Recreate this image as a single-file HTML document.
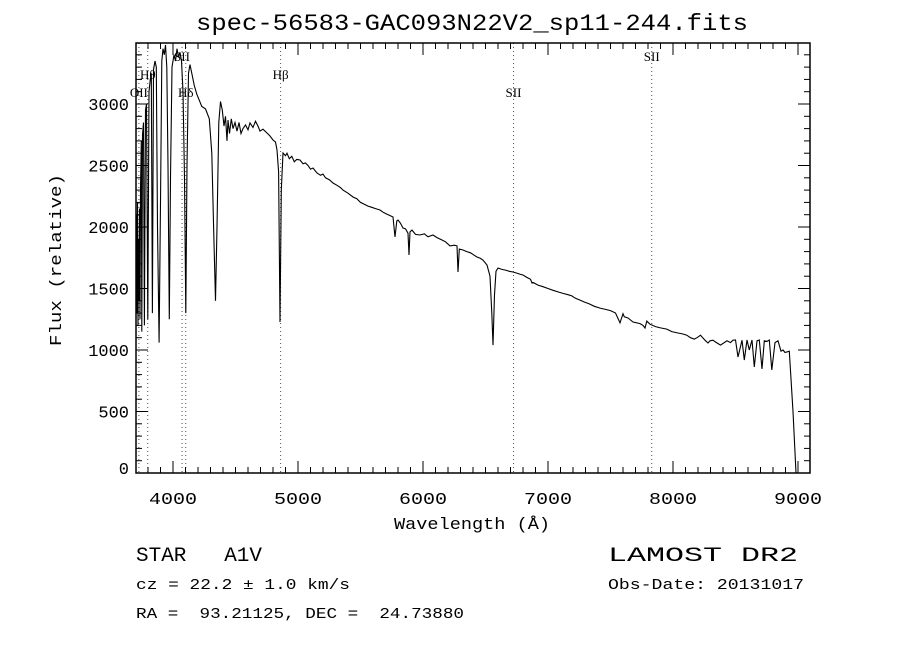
<!DOCTYPE html>
<html><head><meta charset="utf-8"><style>
html,body{margin:0;padding:0;background:#fff;}
svg{display:block;}
text{font-family:"Liberation Mono",monospace;fill:#000;}
.serif{font-family:"Liberation Serif",serif;}
</style></head><body>
<svg id="chart" width="900" height="650" viewBox="0 0 900 650" xmlns="http://www.w3.org/2000/svg">
<rect width="900" height="650" fill="#fff"/>
<text x="472" y="30" text-anchor="middle" font-size="23" textLength="552" lengthAdjust="spacingAndGlyphs">spec-56583-GAC093N22V2_sp11-244.fits</text>
<g id="plot"></g>
<text x="472" y="529" text-anchor="middle" font-size="17" textLength="156" lengthAdjust="spacingAndGlyphs">Wavelength (Å)</text>
<text transform="translate(61,260) rotate(-90)" text-anchor="middle" font-size="17" textLength="172" lengthAdjust="spacingAndGlyphs">Flux (relative)</text>
<text x="136" y="561" font-size="20" textLength="126" lengthAdjust="spacingAndGlyphs" xml:space="preserve">STAR   A1V</text>
<text x="136" y="589" font-size="15" textLength="214" lengthAdjust="spacingAndGlyphs">cz = 22.2 ± 1.0 km/s</text>
<text x="136" y="618" font-size="15" textLength="328" lengthAdjust="spacingAndGlyphs" xml:space="preserve">RA =  93.21125, DEC =  24.73880</text>
<text x="608" y="561" font-size="20" textLength="190" lengthAdjust="spacingAndGlyphs">LAMOST DR2</text>
<text x="608" y="589" font-size="15" textLength="196" lengthAdjust="spacingAndGlyphs">Obs-Date: 20131017</text>
</svg>
<script>
const wave = [3704,3708,3712,3716,3720,3724,3728,3732,3736,3740,3746,3750,3756,3764,3771,3780,3788,3798,3808,3818,3826,3835,3844,3856,3866,3876,3889,3900,3910,3920,3930,3940,3950,3960,3970,3980,3992,4008,4020,4032,4044,4056,4068,4080,4092,4102,4112,4124,4136,4150,4170,4190,4210,4230,4260,4290,4310,4325,4340,4352,4366,4380,4394,4408,4420,4432,4440,4452,4466,4480,4496,4512,4528,4544,4560,4580,4600,4616,4640,4660,4680,4696,4720,4752,4776,4800,4820,4832,4845,4856,4866,4880,4900,4912,4930,4950,4970,4990,5016,5040,5060,5080,5100,5120,5152,5180,5200,5220,5250,5280,5310,5340,5360,5400,5440,5470,5500,5530,5560,5590,5620,5656,5680,5700,5730,5760,5776,5790,5800,5820,5840,5860,5880,5888,5896,5912,5940,5976,6010,6040,6080,6110,6152,6180,6216,6250,6272,6280,6290,6320,6350,6380,6410,6432,6460,6480,6512,6536,6550,6560,6572,6584,6600,6630,6660,6690,6720,6750,6780,6800,6830,6860,6872,6880,6920,6960,7000,7040,7080,7120,7160,7190,7220,7256,7290,7330,7370,7416,7460,7500,7540,7576,7600,7610,7640,7680,7736,7760,7776,7790,7816,7860,7900,7950,7990,8040,8080,8110,8140,8170,8192,8220,8256,8280,8296,8320,8340,8380,8432,8460,8480,8500,8520,8552,8570,8592,8610,8632,8650,8672,8690,8712,8730,8752,8770,8790,8816,8840,8864,8880,8896,8930,8960,8984,8994,8996,8998];
const flux = [1600,2100,1300,2200,1200,1900,1400,2150,1250,2300,2700,1150,2750,2850,1200,2950,3000,1250,3100,3200,3250,1300,3280,3350,3300,2000,1060,2200,3350,3450,3400,3480,3300,2500,1250,2400,3300,3400,3350,3450,3380,3420,3350,3100,2400,1300,2500,3250,3320,3250,3150,3080,3030,2980,2960,2880,2600,2000,1400,2000,2850,3020,2950,2820,2900,2700,2870,2760,2880,2800,2850,2780,2850,2760,2800,2830,2790,2846,2810,2860,2820,2780,2795,2764,2740,2707,2690,2626,2450,1228,2300,2602,2580,2600,2555,2575,2530,2550,2545,2515,2520,2500,2470,2480,2439,2420,2430,2400,2385,2358,2340,2320,2300,2275,2244,2230,2200,2185,2170,2160,2150,2138,2120,2110,2095,2081,1919,2050,2057,2030,1992,1985,1950,1772,1960,1975,1940,1935,1945,1920,1935,1915,1894,1880,1846,1852,1846,1634,1820,1813,1800,1790,1770,1756,1745,1730,1691,1600,1300,1040,1450,1640,1667,1655,1650,1640,1634,1625,1615,1610,1590,1575,1545,1550,1528,1515,1500,1485,1472,1460,1450,1440,1420,1406,1390,1375,1355,1341,1330,1320,1301,1220,1295,1270,1260,1228,1215,1200,1179,1235,1210,1190,1180,1170,1150,1138,1130,1120,1100,1089,1100,1120,1080,1057,1075,1080,1065,1040,1075,1060,1080,1081,943,1080,919,1081,1000,1081,862,1075,1081,846,1075,1070,1081,838,1060,1075,990,1000,980,990,500,0];
const xTicks = [4000,5000,6000,7000,8000,9000];
const yTicks = [0,500,1000,1500,2000,2500,3000];
const lineWaves = [3727,3798,4072,4102,4861,6724,7830];
const lineNames = ["OII","Hθ","SII","Hδ","Hβ","SII","SII"];
const lineLabelRow = [2,1,0,2,1,2,0];

const L=136,R=810,T=43,B=473;
const xMin=3704,xMax=9096,yMin=0,yMax=3496;
const X=v=>L+(v-xMin)/(xMax-xMin)*(R-L);
const Y=v=>B-(v-yMin)/(yMax-yMin)*(B-T);
const NS="http://www.w3.org/2000/svg";
const g=document.getElementById('plot');
function mk(tag,attrs){const e=document.createElementNS(NS,tag);for(const k in attrs)e.setAttribute(k,attrs[k]);g.appendChild(e);return e;}

lineWaves.forEach((w,i)=>{
  const l=mk('line',{x1:X(w),x2:X(w),y1:T,y2:B,stroke:'#a0302a','stroke-width':1,'stroke-dasharray':'1,3'});
  
  
  const ys=[61,79,97];
  const t=mk('text',{x:X(w),y:ys[lineLabelRow[i]],'text-anchor':'middle','font-size':13,class:'serif'});
  t.textContent=lineNames[i];
  
  
});

const defs=mk('defs',{});
const cp=document.createElementNS(NS,'clipPath');cp.setAttribute('id','clip');
const cr=document.createElementNS(NS,'rect');cr.setAttribute('x',L);cr.setAttribute('y',T);cr.setAttribute('width',R-L);cr.setAttribute('height',B-T);
cp.appendChild(cr);defs.appendChild(cp);
let d='';
wave.forEach((w,i)=>{d+=(i?'L':'M')+X(w).toFixed(1)+','+Y(flux[i]).toFixed(1);});
const p=mk('path',{d:d,fill:'none',stroke:'#000','stroke-width':1.1,'clip-path':'url(#clip)'});



const fr=mk('rect',{x:L,y:T,width:R-L,height:B-T,fill:'none',stroke:'#000','stroke-width':1.5});



for(let v=3800;v<=9000;v+=100){
  const maj=v%1000===0, len=maj?12:6, x=X(v);
  mk('line',{x1:x,x2:x,y1:B,y2:B-len,stroke:'#000'});
  mk('line',{x1:x,x2:x,y1:T,y2:T+len,stroke:'#000'});
}
xTicks.forEach(v=>{
  const t=mk('text',{x:X(v),y:504,'text-anchor':'middle','font-size':17,textLength:48,lengthAdjust:'spacingAndGlyphs'});
  t.textContent=v;
  
  
});
for(let v=0;v<=3400;v+=100){
  const maj=v%500===0, len=maj?12:6, y=Y(v);
  mk('line',{x1:L,x2:L+len,y1:y,y2:y,stroke:'#000'});
  mk('line',{x1:R,x2:R-len,y1:y,y2:y,stroke:'#000'});
}
yTicks.forEach(v=>{
  const t=mk('text',{x:129,y:Math.min(Y(v)+6,474),'text-anchor':'end','font-size':17});
  t.textContent=v;
  
  
});
</script>
</body></html>
